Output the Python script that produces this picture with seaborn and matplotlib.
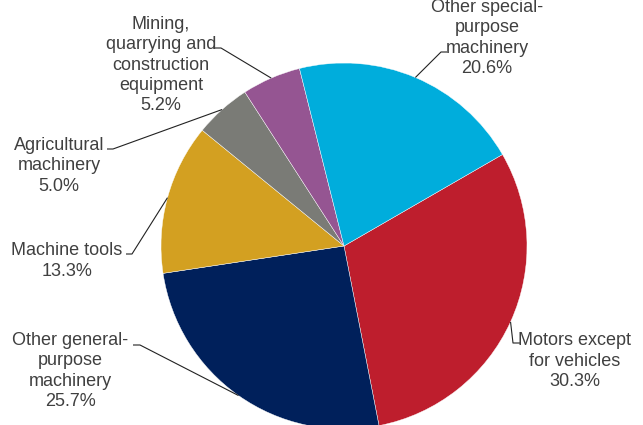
import matplotlib
matplotlib.use("Agg")
import matplotlib.pyplot as plt
import numpy as np
import seaborn as sns

# Shares of machinery output by segment (%)
segments = [
    "Motors except\nfor vehicles",
    "Other general-\npurpose\nmachinery",
    "Machine tools",
    "Agricultural\nmachinery",
    "Mining,\nquarrying and\nconstruction\nequipment",
    "Other special-\npurpose\nmachinery",
]
shares = [30.3, 25.7, 13.3, 5.0, 5.2, 20.6]
colors = ["#BE1E2D", "#00205B", "#D3A021", "#7A7B76", "#955592", "#00ADDC"]

sns.set_theme(style="white")
plt.rcParams["font.family"] = ["Liberation Sans", "DejaVu Sans"]

W, H = 643, 425
fig = plt.figure(figsize=(W / 100, H / 100), dpi=100)
ax = fig.add_axes([0, 0, 1, 1])

# pie centre and radius in pixels
cx, cy, r = 344, 246, 183

wedges, _ = ax.pie(shares, colors=sns.color_palette(colors), startangle=30,
                   counterclock=False, radius=1, center=(0, 0),
                   wedgeprops=dict(linewidth=0.3, edgecolor="white"),
                   frame=True)
ax.set_xlim(-cx / r, (W - cx) / r)
ax.set_ylim(-(H - cy) / r, cy / r)
ax.axis("off")


def px(x, y):
    return ((x - cx) / r, (cy - y) / r)


# label layout: (elbow x, elbow y, tick end x, text centre x, text centre y)
layout = [
    (513, 343, 520, 575, 361),
    (140, 345, 133, 70, 371),
    (132, 254, 126, 67, 261),
    (113, 149, 107, 59, 166),
    (221, 48, 213, 161, 65),
    (441, 52, 447, 487, 38),
]

for w, name, val, (ex, ey, tx, lx, ly) in zip(wedges, segments, shares, layout):
    mid = np.deg2rad((w.theta1 + w.theta2) / 2)
    sx, sy = np.cos(mid), np.sin(mid)
    e = px(ex, ey)
    t = px(tx, ey)
    ax.plot([sx, e[0], t[0]], [sy, e[1], t[1]], color="#222222", lw=0.8,
            solid_capstyle="butt")
    tp = px(lx, ly)
    ax.text(tp[0], tp[1], f"{name}\n{val:.1f}%", ha="center", va="center",
            fontsize=13, color="#404040", linespacing=1.24)

fig.savefig("out.png", dpi=100)
